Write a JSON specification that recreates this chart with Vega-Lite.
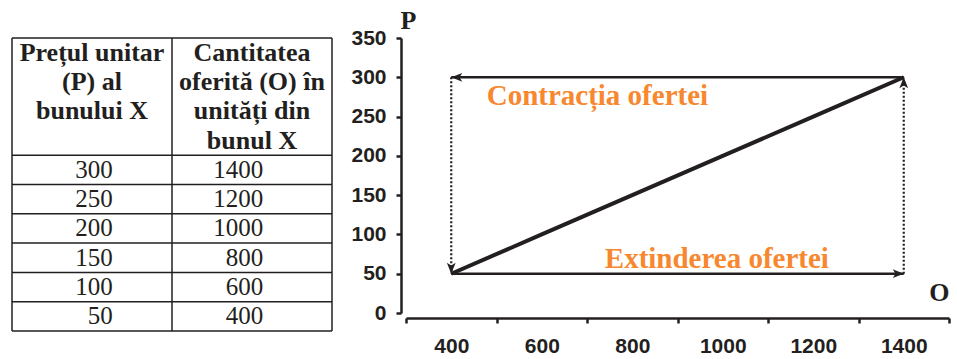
{
  "$schema": "https://vega.github.io/schema/vega-lite/v6.json",
  "background": "white",
  "padding": {"left": 11, "top": 7, "right": 5, "bottom": 5},
  "datasets": {
    "supply": [
      {"P": 300, "O": 1400},
      {"P": 250, "O": 1200},
      {"P": 200, "O": 1000},
      {"P": 150, "O": 800},
      {"P": 100, "O": 600},
      {"P": 50, "O": 400}
    ],
    "header": [
      {"col": "P", "line": 1, "text": "Prețul unitar"},
      {"col": "P", "line": 2, "text": "(P) al\u00a0\u00a0\u00a0"},
      {"col": "P", "line": 3, "text": "bunului X"},
      {"col": "O", "line": 1, "text": "Cantitatea"},
      {"col": "O", "line": 2, "text": "oferită (O) în"},
      {"col": "O", "line": 3, "text": "unități din"},
      {"col": "O", "line": 4, "text": "bunul X"}
    ],
    "shifts": [
      {"O_start": 1400, "O_end": 400, "P": 300},
      {"O_start": 400, "O_end": 1400, "P": 50}
    ],
    "dotted": [
      {"O": 400, "P_start": 300, "P_end": 50},
      {"O": 1400, "P_start": 50, "P_end": 300}
    ],
    "tips": [
      {"O": 400, "P": 300, "dir": "left"},
      {"O": 1400, "P": 50, "dir": "right"},
      {"O": 400, "P": 50, "dir": "down"},
      {"O": 1400, "P": 300, "dir": "up"}
    ],
    "notes": [
      {"O": 723, "P": 265, "label": "Contracția ofertei"},
      {"O": 987, "P": 57, "label": "Extinderea ofertei"}
    ]
  },
  "hconcat": [
    {
      "width": 320,
      "height": 293,
      "layer": [
        {
          "data": {"name": "supply"},
          "mark": {"type": "rule", "color": "#231F20", "strokeWidth": 1.5},
          "encoding": {
            "y": {"field": "P", "type": "ordinal", "bandPosition": 0, "scale": {"type": "band", "domain": [1, 2, 3, 4, 300, 250, 200, 150, 100, 50], "paddingInner": 0, "paddingOuter": 0}, "axis": null}
          }
        },
        {
          "data": {"name": "header"},
          "transform": [{"filter": "datum.col === 'P' && datum.line === 1"}],
          "mark": {"type": "rule", "color": "#231F20", "strokeWidth": 1.5},
          "encoding": {
            "y": {"datum": 1, "type": "ordinal", "bandPosition": 0, "scale": {"type": "band", "domain": [1, 2, 3, 4, 300, 250, 200, 150, 100, 50], "paddingInner": 0, "paddingOuter": 0}, "axis": null}
          }
        },
        {
          "data": {"name": "header"},
          "transform": [{"filter": "datum.col === 'P' && datum.line === 1"}],
          "mark": {"type": "rule", "color": "#231F20", "strokeWidth": 1.5},
          "encoding": {
            "y": {"datum": 50, "type": "ordinal", "bandPosition": 1, "scale": {"type": "band", "domain": [1, 2, 3, 4, 300, 250, 200, 150, 100, 50], "paddingInner": 0, "paddingOuter": 0}, "axis": null}
          }
        },
        {
          "data": {"name": "header"},
          "transform": [{"filter": "datum.line === 1"}],
          "mark": {"type": "rule", "color": "#231F20", "strokeWidth": 1.5},
          "encoding": {
            "x": {"field": "col", "type": "nominal", "bandPosition": 0, "scale": {"type": "band", "domain": ["P", "O"], "paddingInner": 0, "paddingOuter": 0}, "axis": null}
          }
        },
        {
          "data": {"name": "header"},
          "transform": [{"filter": "datum.col === 'O' && datum.line === 1"}],
          "mark": {"type": "rule", "color": "#231F20", "strokeWidth": 1.5},
          "encoding": {
            "x": {"field": "col", "type": "nominal", "bandPosition": 1, "scale": {"type": "band", "domain": ["P", "O"], "paddingInner": 0, "paddingOuter": 0}, "axis": null}
          }
        },
        {
          "data": {"name": "header"},
          "mark": {"type": "text", "font": "Liberation Serif", "fontSize": 26, "fontWeight": "bold", "color": "#231F20", "baseline": "middle"},
          "encoding": {
            "x": {"field": "col", "type": "nominal", "scale": {"type": "band", "domain": ["P", "O"], "paddingInner": 0, "paddingOuter": 0}, "axis": null},
            "y": {"field": "line", "type": "ordinal", "scale": {"type": "band", "domain": [1, 2, 3, 4, 300, 250, 200, 150, 100, 50], "paddingInner": 0, "paddingOuter": 0}, "axis": null},
            "text": {"field": "text"}
          }
        },
        {
          "data": {"name": "supply"},
          "mark": {"type": "text", "font": "Liberation Serif", "fontSize": 25, "color": "#231F20", "align": "right", "baseline": "middle"},
          "encoding": {
            "x": {"datum": "P", "type": "nominal", "bandPosition": 0.63, "scale": {"type": "band", "domain": ["P", "O"], "paddingInner": 0, "paddingOuter": 0}, "axis": null},
            "y": {"field": "P", "type": "ordinal", "scale": {"type": "band", "domain": [1, 2, 3, 4, 300, 250, 200, 150, 100, 50], "paddingInner": 0, "paddingOuter": 0}, "axis": null},
            "text": {"field": "P"}
          }
        },
        {
          "data": {"name": "supply"},
          "mark": {"type": "text", "font": "Liberation Serif", "fontSize": 25, "color": "#231F20", "align": "right", "baseline": "middle"},
          "encoding": {
            "x": {"datum": "O", "type": "nominal", "bandPosition": 0.57, "scale": {"type": "band", "domain": ["P", "O"], "paddingInner": 0, "paddingOuter": 0}, "axis": null},
            "y": {"field": "P", "type": "ordinal", "scale": {"type": "band", "domain": [1, 2, 3, 4, 300, 250, 200, 150, 100, 50], "paddingInner": 0, "paddingOuter": 0}, "axis": null},
            "text": {"field": "O"}
          }
        }
      ]
    },
    {
      "width": 543,
      "height": 275,
      "layer": [
        {
          "data": {"name": "supply"},
          "mark": {"type": "line", "color": "#231F20", "strokeWidth": 4},
          "encoding": {
            "x": {
              "field": "O", "type": "quantitative",
              "scale": {"domain": [300, 1500], "nice": false, "zero": false},
              "axis": {"values": [300, 500, 700, 900, 1100, 1300, 1500], "labelExpr": "datum.value < 1500 ? format(datum.value + 100, 'd') : ''", "labelOffset": 45.3, "labelPadding": 12, "offset": 5, "domain": true, "ticks": true, "title": "O", "titleX": 543, "titleY": -18, "titleAlign": "right", "titleBaseline": "alphabetic", "titleAnchor": null, "orient": "bottom"}
            },
            "y": {
              "field": "P", "type": "quantitative",
              "scale": {"domain": [0, 350], "nice": false},
              "axis": {"values": [0, 50, 100, 150, 200, 250, 300, 350], "format": "d", "labelPadding": 10, "offset": 5, "domain": true, "ticks": true, "title": "P", "titleAngle": 0, "titleX": 7, "titleY": -10, "titleAlign": "center", "titleBaseline": "alphabetic", "titleAnchor": null, "orient": "left"}
            },
            "order": {"field": "O"}
          }
        },
        {
          "data": {"name": "shifts"},
          "mark": {"type": "rule", "color": "#231F20", "strokeWidth": 2.5},
          "encoding": {
            "x": {"field": "O_start", "type": "quantitative", "axis": null},
            "x2": {"field": "O_end"},
            "y": {"field": "P", "type": "quantitative", "axis": null}
          }
        },
        {
          "data": {"name": "dotted"},
          "mark": {"type": "rule", "color": "#231F20", "strokeWidth": 2.2, "strokeDash": [2, 2]},
          "encoding": {
            "x": {"field": "O", "type": "quantitative", "axis": null},
            "y": {"field": "P_start", "type": "quantitative", "axis": null},
            "y2": {"field": "P_end"}
          }
        },
        {
          "data": {"name": "tips"},
          "mark": {"type": "point", "filled": true, "color": "#231F20", "size": 121, "opacity": 1},
          "encoding": {
            "x": {"field": "O", "type": "quantitative", "axis": null},
            "y": {"field": "P", "type": "quantitative", "axis": null},
            "shape": {
              "field": "dir", "type": "nominal", "legend": null,
              "scale": {
                "domain": ["left", "right", "up", "down"],
                "range": [
                  "M0,0L2,-0.8L1.5,0L2,0.8Z",
                  "M0,0L-2,-0.8L-1.5,0L-2,0.8Z",
                  "M0,0L-0.8,2L0,1.5L0.8,2Z",
                  "M0,0L-0.8,-2L0,-1.5L0.8,-2Z"
                ]
              }
            }
          }
        },
        {
          "data": {"name": "notes"},
          "mark": {"type": "text", "font": "Liberation Serif", "fontSize": 29, "fontWeight": "bold", "color": "#F7882F", "align": "center", "baseline": "alphabetic"},
          "encoding": {
            "x": {"field": "O", "type": "quantitative", "axis": null},
            "y": {"field": "P", "type": "quantitative", "axis": null},
            "text": {"field": "label"}
          }
        }
      ],
      "resolve": {"axis": {"x": "independent", "y": "independent"}}
    }
  ],
  "spacing": 74,
  "bounds": "flush",
  "resolve": {"scale": {"x": "independent", "y": "independent"}},
  "config": {
    "view": {"stroke": null},
    "axis": {
      "grid": false,
      "domainColor": "#231F20",
      "domainWidth": 2.5,
      "tickColor": "#231F20",
      "tickWidth": 2.5,
      "tickSize": 5,
      "labelFont": "Liberation Sans",
      "labelFontSize": 21,
      "labelFontWeight": "bold",
      "labelColor": "#231F20",
      "labelFlush": false,
      "labelOverlap": false,
      "titleFont": "Liberation Serif",
      "titleFontSize": 26,
      "titleFontWeight": "bold",
      "titleColor": "#231F20"
    }
  }
}
